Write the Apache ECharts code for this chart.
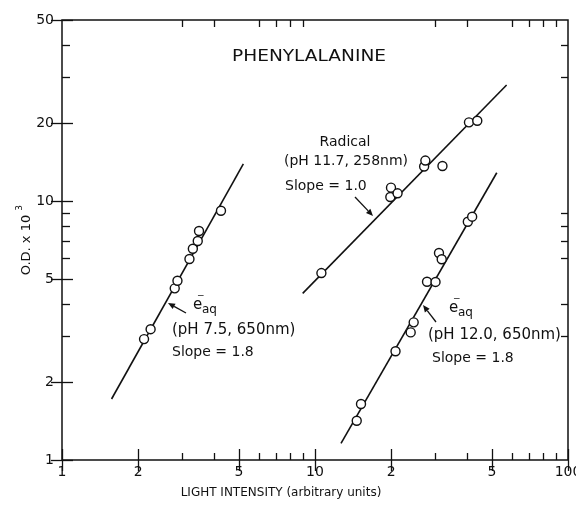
<!DOCTYPE html>
<html>
<head>
<meta charset="utf-8">
<script src="https://cdn.jsdelivr.net/npm/echarts@6/dist/echarts.min.js"></script>
<style>
  html, body { margin: 0; padding: 0; background: #fff; }
  #chart { width: 576px; height: 509px; }
</style>
</head>
<body>
<div id="chart"></div>
<script>
// e-aq (pH 7.5, 650nm)
const aq75X = [2.11, 2.24, 2.79, 2.86, 3.19, 3.29, 3.44, 3.48, 4.25];
const aq75Y = [2.93, 3.20, 4.60, 4.92, 5.97, 6.54, 7.01, 7.66, 9.17];
const aq75FitX = [1.57, 5.21];
const aq75FitY = [1.72, 13.9];
// Radical (pH 11.7, 258nm)
const radX = [10.6, 19.85, 19.97, 21.2, 27.0, 27.3, 31.9, 40.6, 43.8];
const radY = [5.27, 10.36, 11.26, 10.71, 13.59, 14.33, 13.65, 20.13, 20.42];
const radFitX = [8.94, 57.2];
const radFitY = [4.40, 28.05];
// e-aq (pH 12.0, 650nm)
const aq12X = [14.62, 15.2, 20.81, 23.89, 24.55, 27.72, 29.95, 30.91, 31.68, 40.18, 41.8];
const aq12Y = [1.418, 1.645, 2.63, 3.11, 3.40, 4.88, 4.87, 6.30, 5.96, 8.32, 8.70];
const aq12FitX = [12.67, 52.3];
const aq12FitY = [1.16, 12.86];

const xMajor = [1, 2, 5, 10, 20, 50, 100];
const xMajorLabels = ["1", "2", "5", "10", "2", "5", "100"];
const xMinor = [3, 4, 6, 7, 8, 9, 30, 40, 60, 70, 80, 90];
const yMajor = [1, 2, 5, 10, 20, 50];
const yMajorLabels = ["1", "2", "5", "10", "20", "50"];
const yMinor = [3, 4, 6, 7, 8, 9, 30, 40];

const INK = "#111";
const FONT = "DejaVu Sans";
const lg = Math.log10;
const pairs = (xs, ys) => xs.map((x, i) => [x, ys[i]]);

const chart = echarts.init(document.getElementById("chart"));

// the log axes carry the data, the value axes (in log10 space) only draw ticks
const dataAxis = (max) => ({
  type: "log",
  logBase: 10,
  min: 1,
  max: max,
  axisLine: { show: false },
  axisTick: { show: false },
  axisLabel: { show: false },
  splitLine: { show: false },
});
const tickAxis = (pos, max, values, len, labels, allValues, margin) => ({
  type: "value",
  position: pos,
  min: 0,
  max: lg(max),
  axisLine: { show: false },
  splitLine: { show: false },
  axisTick: {
    show: true,
    inside: true,
    length: len,
    customValues: values.map(lg),
    lineStyle: { color: INK, width: 1.3 },
  },
  axisLabel: labels
    ? {
        show: true,
        customValues: values.map(lg),
        color: INK,
        fontFamily: FONT,
        fontSize: 14,
        margin: margin,
        formatter: (v) => {
          const i = allValues.findIndex((a) => Math.abs(lg(a) - v) < 1e-6);
          return i >= 0 ? labels[i] : "";
        },
      }
    : { show: false },
});

const arrow = (x1, y1, x2, y2) => {
  const a = Math.atan2(y2 - y1, x2 - x1);
  const L = 7, W = 3;
  const bx = x2 - L * Math.cos(a), by = y2 - L * Math.sin(a);
  return [
    {
      type: "line",
      shape: { x1, y1, x2: bx, y2: by },
      style: { stroke: INK, lineWidth: 1.3 },
    },
    {
      type: "polygon",
      shape: {
        points: [
          [x2, y2],
          [bx + W * Math.sin(a), by - W * Math.cos(a)],
          [bx - W * Math.sin(a), by + W * Math.cos(a)],
        ],
      },
      style: { fill: INK },
    },
  ];
};
const txt = (text, x, y, size, align, extra) => ({
  type: "text",
  x,
  y,
  ...(extra || {}),
  style: {
    text,
    font: size + "px " + FONT,
    fill: INK,
    align: align || "center",
    verticalAlign: "middle",
  },
});
const eaq = (x, y) => [
  txt("e", x, y, 15, "left"),
  txt("\u2212", x + 4, y - 9, 9, "left"),
  txt("aq", x + 9, y + 5, 12, "left"),
];

const option = {
  animation: false,
  backgroundColor: "#fff",
  grid: {
    left: 62,
    right: 8,
    top: 20,
    bottom: 49,
    outerBoundsMode: "none",
    containLabel: false,
    show: true,
    borderColor: INK,
    borderWidth: 1.5,
    backgroundColor: "transparent",
  },
  xAxis: [
    dataAxis(100),
    tickAxis("bottom", 100, xMajor, 11, xMajorLabels, xMajor, 5),
    tickAxis("bottom", 100, xMinor, 7),
    tickAxis("top", 100, xMajor, 11),
    tickAxis("top", 100, xMinor, 7),
  ],
  yAxis: [
    dataAxis(50),
    tickAxis("left", 50, yMajor, 11, yMajorLabels, yMajor, 8),
    tickAxis("left", 50, yMinor, 8),
    tickAxis("right", 50, yMajor, 11),
    tickAxis("right", 50, yMinor, 7),
  ],
  series: [
    [aq75FitX, aq75FitY],
    [radFitX, radFitY],
    [aq12FitX, aq12FitY],
  ]
    .map(([xs, ys]) => ({
      type: "line",
      xAxisIndex: 0,
      yAxisIndex: 0,
      data: pairs(xs, ys),
      symbol: "none",
      lineStyle: { color: INK, width: 1.6 },
      z: 2,
    }))
    .concat(
      [
        [aq75X, aq75Y],
        [radX, radY],
        [aq12X, aq12Y],
      ].map(([xs, ys]) => ({
        type: "scatter",
        xAxisIndex: 0,
        yAxisIndex: 0,
        data: pairs(xs, ys),
        symbol: "circle",
        symbolSize: 9,
        itemStyle: { color: "#fff", borderColor: INK, borderWidth: 1.4, opacity: 1 },
        z: 3,
      }))
    ),
  graphic: [
    txt("PHENYLALANINE", 309, 57, 16, "center", { scaleX: 1.16 }),
    txt("LIGHT INTENSITY (arbitrary units)", 281, 493, 12),
    txt("O.D. x 10", 27, 245, 13, "center", { rotation: Math.PI / 2 }),
    txt("3", 20, 208, 9, "center", { rotation: Math.PI / 2 }),
    txt("Radical", 345, 142, 14),
    txt("(pH 11.7, 258nm)", 346, 161, 14),
    txt("Slope = 1.0", 285, 186, 14, "left"),
    ...arrow(355, 197, 373, 216),
    ...eaq(193, 305),
    txt("(pH 7.5, 650nm)", 172, 330, 15, "left"),
    txt("Slope = 1.8", 172, 352, 14, "left"),
    ...arrow(186, 313, 168, 303),
    ...eaq(449, 308),
    txt("(pH 12.0, 650nm)", 428, 335, 15, "left"),
    txt("Slope = 1.8", 432, 358, 14, "left"),
    ...arrow(436, 322, 423, 305),
  ],
};
chart.setOption(option);
</script>
</body>
</html>
